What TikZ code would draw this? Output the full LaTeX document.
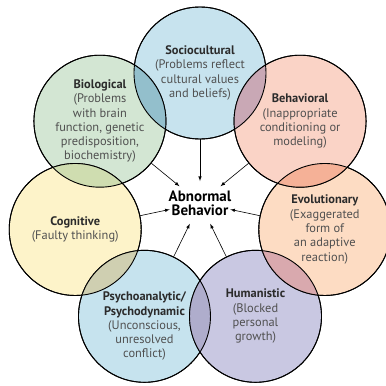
\documentclass[tikz,border=0pt]{standalone}
\usepackage{fontspec}
\setmainfont{PT Sans}
\usetikzlibrary{arrows,shapes.geometric}

\definecolor{socfill}{HTML}{C7E3EE}
\definecolor{biofill}{HTML}{D3E6D3}
\definecolor{cogfill}{HTML}{FDF3C9}
\definecolor{psyfill}{HTML}{C6E3EE}
\definecolor{humfill}{HTML}{C9C8E2}
\definecolor{evofill}{HTML}{FDDCC3}
\definecolor{behfill}{HTML}{FAD3C6}
\definecolor{sobi}{HTML}{93BFCC}
\definecolor{bico}{HTML}{CFDDB0}
\definecolor{cops}{HTML}{CFCFB1}
\definecolor{pshu}{HTML}{AFADCC}
\definecolor{huev}{HTML}{D9A9AE}
\definecolor{evbe}{HTML}{F5B197}
\definecolor{beso}{HTML}{C9A8B5}
\definecolor{headgrey}{HTML}{2B2B2B}
\definecolor{bodygrey}{HTML}{505050}

\tikzset{
  circ/.style={circle,draw,line width=0.9pt,minimum size=132,inner sep=0pt,
    align=center,text=bodygrey,font=\fontsize{12.4}{14.3}\selectfont},
  arr/.style={-latex,line width=0.6pt},
}
\newcommand{\hd}[1]{{\bfseries\color{headgrey}#1}}

\begin{document}
\begin{tikzpicture}[x=1pt,y=1pt]
\useasboundingbox (-200,-185) rectangle (186,201);

\node[circ,fill=socfill] (soc) at (90:128) {\hd{Sociocultural}\\(Problems reflect\\cultural values\\and beliefs)};
\node[circ,fill=biofill] (bio) at (141.43:128) {\hd{Biological}\\(Problems\\with brain\\function, genetic\\predisposition,\\biochemistry)};
\node[circ,fill=cogfill] (cog) at (192.86:128) {\hd{Cognitive}\\(Faulty thinking)};
\node[circ,fill=psyfill,label={[align=center,text=bodygrey,font=\fontsize{12.4}{14.3}\selectfont,yshift=-10pt]center:{\hd{Psychoanalytic/}\\\hd{Psychodynamic}\\(Unconscious,\\unresolved\\conflict)}}] (psy) at (244.29:128) {};
\node[circ,fill=humfill] (hum) at (295.71:128) {\hd{Humanistic}\\(Blocked\\personal\\growth)};
\node[circ,fill=evofill] (evo) at (347.14:128) {\hd{Evolutionary}\\(Exaggerated\\form of\\an adaptive\\reaction)};
\node[circ,fill=behfill] (beh) at (38.57:128) {\hd{Behavioral}\\(Inappropriate\\conditioning or\\modeling)};

% overlaps
\foreach \a/\b/\c in {soc/bio/sobi,bio/cog/bico,cog/psy/cops,psy/hum/pshu,hum/evo/huev,evo/beh/evbe,beh/soc/beso}{
  \begin{scope}
    \clip (\a) circle (66);
    \fill[\c] (\b) circle (66);
  \end{scope}
}
\foreach \n in {soc,bio,cog,psy,hum,evo,beh}
  \draw[line width=0.9pt] (\n) circle (66);

\node[ellipse,inner xsep=-9pt,inner ysep=3pt,align=center,font=\fontsize{15}{14}\selectfont\bfseries] (abn) at (0,-2) {Abnormal\\Behavior};

\foreach \n in {soc,bio,cog,psy,hum,evo,beh}
  \draw[arr] (\n) -- (abn);

\end{tikzpicture}
\end{document}
